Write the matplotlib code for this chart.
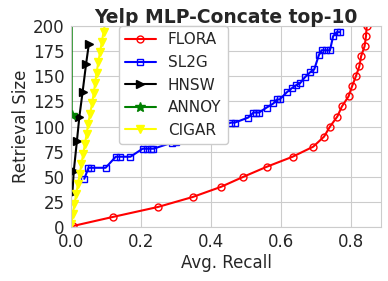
import numpy as np
import matplotlib
matplotlib.use("Agg")
import matplotlib.pyplot as plt
import seaborn as sns

# values
flora_x = [0.005, 0.119, 0.249, 0.349, 0.429, 0.493, 0.560, 0.634, 0.693, 0.724,
           0.741, 0.762, 0.775, 0.794, 0.804, 0.815, 0.825, 0.830, 0.840, 0.844, 0.846]
flora_y = [1, 10, 20, 30, 40, 50, 60, 70, 80, 90,
           100, 110, 120, 130, 140, 150, 160, 170, 180, 190, 200]

sl2g_x = [0.038, 0.050, 0.058, 0.099, 0.128, 0.140, 0.170, 0.205, 0.218, 0.228,
          0.236, 0.289, 0.300, 0.458, 0.469, 0.507, 0.522, 0.530, 0.538, 0.560,
          0.579, 0.589, 0.597, 0.617, 0.631, 0.643, 0.655, 0.669, 0.684, 0.696,
          0.709, 0.717, 0.730, 0.741, 0.750, 0.760, 0.769]
sl2g_y = [48, 59, 59, 59, 70, 70, 70, 78, 78, 78,
          78, 84, 85, 104, 104, 109, 114, 114, 114, 119,
          123, 127, 127, 134, 138, 141, 143, 149, 154, 157,
          171, 176, 176, 176, 190, 194, 194]

hnsw_x = [0.004, 0.008, 0.017, 0.024, 0.033, 0.043, 0.051]
hnsw_y = [34, 56, 86, 110, 134, 162, 182]

annoy_x = [0.002, 0.002, 0.003]
annoy_y = [112, 224, 336]

cigar_x = [0.001, 0.005, 0.010, 0.015, 0.020, 0.025, 0.030, 0.035, 0.040, 0.045,
           0.049, 0.055, 0.060, 0.065, 0.069, 0.073, 0.078, 0.083, 0.088, 0.093, 0.098]
cigar_y = [3, 13, 23, 33, 43, 53, 63, 73, 83, 93,
           103, 113, 123, 133, 143, 153, 164, 174, 184, 194, 204]

sns.set_style("whitegrid")
plt.rcParams['font.family'] = ['DejaVu Sans']

fig = plt.figure(figsize=(3.88, 2.81), dpi=100)
ax = fig.add_axes([0.183, 0.192, 0.799, 0.715])

ax.plot(flora_x, flora_y, color='red', marker='o', markersize=5, fillstyle='none',
        linewidth=1.5, label='FLORA')
ax.plot(sl2g_x, sl2g_y, color='blue', marker='s', markersize=5, fillstyle='none',
        linewidth=1.5, label='SL2G')
ax.plot(hnsw_x, hnsw_y, color='black', marker='>', markersize=6,
        linewidth=1.5, label='HNSW')
ax.plot(annoy_x, annoy_y, color='green', marker='*', markersize=7,
        linewidth=1.5, label='ANNOY')
ax.plot(cigar_x, cigar_y, color='yellow', marker='v', markersize=6,
        linewidth=1.5, label='CIGAR')

ax.set_xlim(0, 0.887)
ax.set_ylim(0, 200)
ax.set_xticks([0.0, 0.2, 0.4, 0.6, 0.8])
ax.set_yticks(np.arange(0, 201, 25))
ax.tick_params(labelsize=12, pad=1)

ax.set_title("Yelp MLP-Concate top-10", fontsize=13.5, fontweight='bold', pad=2)
ax.set_xlabel("Avg. Recall", fontsize=12, labelpad=2)
ax.set_ylabel("Retrieval Size", fontsize=12, labelpad=2)

ax.legend(loc='upper left', bbox_to_anchor=(0.155, 1.0), borderaxespad=0,
          fontsize=11, framealpha=1)

fig.savefig("out.png", dpi=100)
